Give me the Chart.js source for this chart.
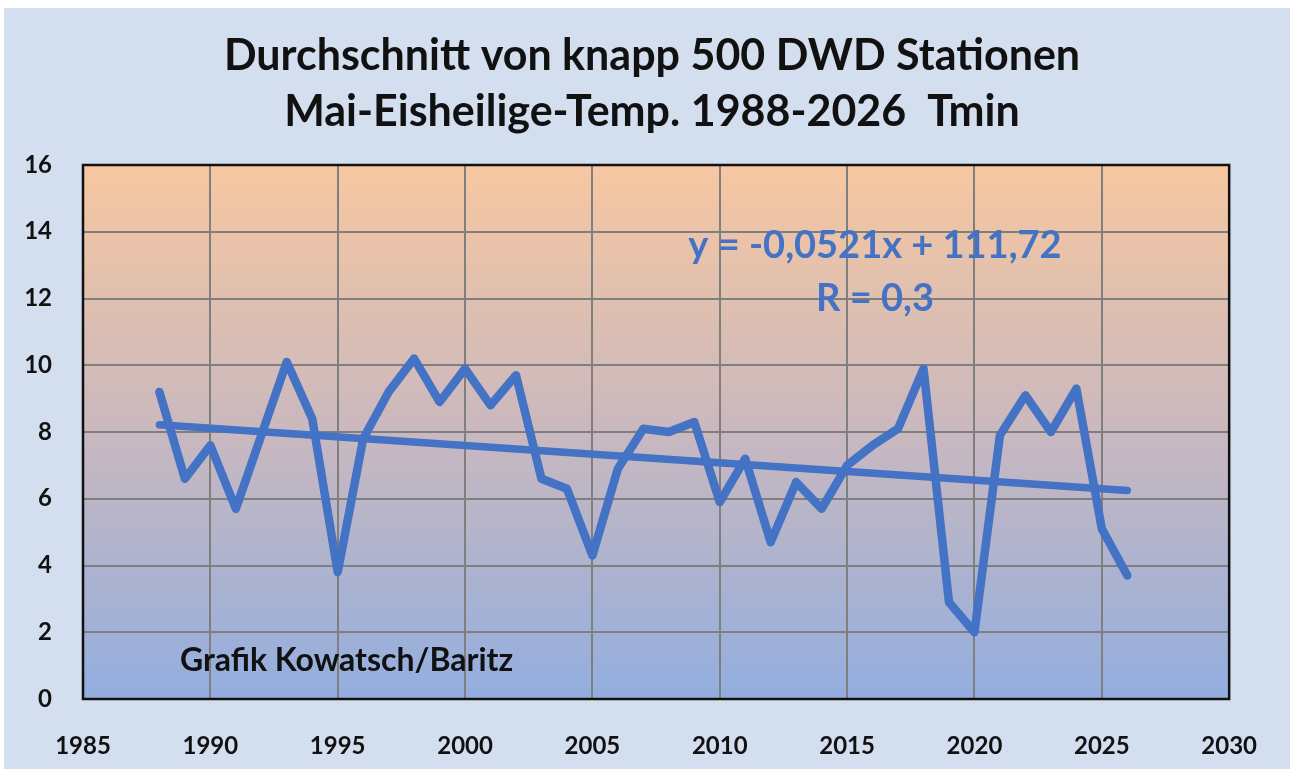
<!DOCTYPE html>
<html>
<head>
<meta charset="utf-8">
<script src="https://cdn.jsdelivr.net/npm/chart.js@4"></script>
<style>
html,body{margin:0;padding:0;background:#fff;}
#wrap{width:1290px;height:769px;position:relative;}
canvas{display:block;}
</style>
</head>
<body>
<div id="wrap"><canvas id="c" width="1290" height="769"></canvas></div>
<script>
const years = [1988,1989,1990,1991,1992,1993,1994,1995,1996,1997,1998,1999,2000,2001,2002,2003,2004,2005,2006,2007,2008,2009,2010,2011,2012,2013,2014,2015,2016,2017,2018,2019,2020,2021,2022,2023,2024,2025,2026];
const tmin = [9.2,6.6,7.6,5.7,7.9,10.1,8.4,3.8,7.8,9.2,10.2,8.9,9.9,8.8,9.7,6.6,6.3,4.3,6.9,8.1,8.0,8.3,5.9,7.2,4.7,6.5,5.7,7.0,7.6,8.1,9.9,2.9,2.0,7.9,9.1,8.0,9.3,5.1,3.7];
const trendYears = [1988, 2026];
const trendValues = [8.22, 6.25];
const xTicks = [1985,1990,1995,2000,2005,2010,2015,2020,2025,2030];
const yTicks = [0,2,4,6,8,10,12,14,16];
const titleLines = ["Durchschnitt von knapp 500 DWD Stationen", "Mai-Eisheilige-Temp. 1988-2026  Tmin"];
const equationText = "y = -0,0521x + 111,72";
const rText = "R = 0,3";
const creditText = "Grafik Kowatsch/Baritz";

const FONT = "Lato, 'Open Sans', sans-serif";
const BLUE = "#4472C4";

const bgPlugin = {
  id: 'bg',
  beforeDraw(chart) {
    const ctx = chart.ctx;
    ctx.save();
    ctx.fillStyle = '#ffffff';
    ctx.fillRect(0, 0, chart.width, chart.height);
    ctx.fillStyle = '#D3DEEF';
    ctx.fillRect(4, 8, chart.width - 4, chart.height - 8);
    const a = chart.chartArea;
    const g = ctx.createLinearGradient(0, a.top, 0, a.bottom);
    g.addColorStop(0, '#F7C7A0');
    g.addColorStop(0.5, '#C9B8BF');
    g.addColorStop(1, '#92AEDF');
    ctx.fillStyle = g;
    ctx.fillRect(a.left, a.top, a.right - a.left, a.bottom - a.top);
    ctx.restore();
  },
  afterDatasetsDraw(chart) {
    const ctx = chart.ctx;
    const a = chart.chartArea;
    ctx.save();
    ctx.strokeStyle = '#111';
    ctx.lineWidth = 2.5;
    ctx.strokeRect(a.left, a.top, a.right - a.left, a.bottom - a.top);
    ctx.restore();
  },
  afterDraw(chart) {
    const ctx = chart.ctx;
    ctx.save();
    ctx.textAlign = 'center';
    ctx.textBaseline = 'middle';
    ctx.fillStyle = '#111';
    ctx.font = "bold 43px " + FONT;
    ctx.fillText(titleLines[0], 652, 56);
    ctx.fillText(titleLines[1], 652, 112);
    ctx.fillStyle = BLUE;
    ctx.font = "bold 38px " + FONT;
    ctx.fillText(equationText, 875, 246);
    ctx.fillText(rText, 875, 299);
    ctx.fillStyle = '#111';
    ctx.textAlign = 'left';
    ctx.font = "bold 32px " + FONT;
    ctx.fillText(creditText, 180, 661);
    ctx.restore();
  }
};

new Chart(document.getElementById('c'), {
  type: 'scatter',
  data: {
    datasets: [
      {
        label: 'Tmin',
        data: years.map((y, i) => ({x: y, y: tmin[i]})),
        showLine: true,
        borderColor: BLUE,
        borderWidth: 8.5,
        pointRadius: 0,
        borderCapStyle: 'round',
        borderJoinStyle: 'round',
        tension: 0,
        order: 1
      },
      {
        label: 'Trend',
        data: trendYears.map((y, i) => ({x: y, y: trendValues[i]})),
        showLine: true,
        borderColor: BLUE,
        borderWidth: 7.5,
        pointRadius: 0,
        borderCapStyle: 'round',
        order: 2
      }
    ]
  },
  options: {
    responsive: false,
    animation: false,
    devicePixelRatio: 1,
    layout: {padding: {top: 165, right: 56, bottom: 0, left: 0}},
    plugins: {legend: {display: false}, tooltip: {enabled: false}, title: {display: false}},
    scales: {
      x: {
        type: 'linear',
        min: 1985, max: 2030,
        afterBuildTicks(scale) { scale.ticks = xTicks.map(v => ({value: v})); },
        afterFit(scale) { scale.height = 70; },
        grid: {color: '#7f7f7f', lineWidth: 2, drawTicks: false},
        border: {display: false},
        ticks: {
          padding: 33,
          color: '#111',
          font: {family: FONT, size: 24, weight: 'bold'},
          callback: v => String(v),
          maxRotation: 0
        }
      },
      y: {
        type: 'linear',
        min: 0, max: 16,
        afterBuildTicks(scale) { scale.ticks = yTicks.map(v => ({value: v})); },
        afterFit(scale) { scale.width = 83; },
        grid: {color: '#7f7f7f', lineWidth: 2, drawTicks: false},
        border: {display: false},
        ticks: {
          padding: 31,
          color: '#111',
          font: {family: FONT, size: 24, weight: 'bold'},
          callback: v => String(v)
        }
      }
    }
  },
  plugins: [bgPlugin]
});
</script>
</body>
</html>
